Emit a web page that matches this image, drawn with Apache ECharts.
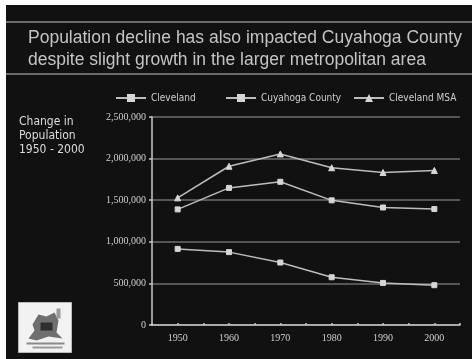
<!DOCTYPE html>
<html>
<head>
<meta charset="utf-8">
<script src="https://cdn.jsdelivr.net/npm/echarts@6/dist/echarts.min.js"></script>
<style>
  html, body { margin: 0; padding: 0; background: #ffffff; width: 472px; height: 359px; overflow: hidden; }
  #chart { position: absolute; left: 6px; top: 5px; width: 466px; height: 354px; }
</style>
</head>
<body>
<div id="chart"></div>
<script>
// Census years and population counts
var years = [1950, 1960, 1970, 1980, 1990, 2000];
var cleveland = [914808, 876050, 750903, 573822, 505616, 478403];
var cuyahoga = [1389532, 1647895, 1721300, 1498400, 1412140, 1393978];
var clevelandMSA = [1528000, 1908000, 2056000, 1890000, 1833000, 1857000];
var yTicks = [0, 500000, 1000000, 1500000, 2000000, 2500000];

function pairs(vals) {
  return years.map(function (y, i) { return [y, vals[i]]; });
}

var lineColor = '#bdbdbd';
var textColor = '#cfcfcf';
var legendFont = { color: textColor, fontSize: 10, fontFamily: 'DejaVu Sans Condensed, DejaVu Sans, sans-serif' };

function series(name, vals, symbol, size) {
  return {
    name: name,
    type: 'line',
    data: pairs(vals),
    symbol: symbol,
    symbolSize: size,
    showSymbol: true,
    lineStyle: { color: lineColor, width: 1.5 },
    itemStyle: { color: '#d6d6d6', borderColor: '#d6d6d6' },
    emphasis: { disabled: true }
  };
}

function legendAt(name, left) {
  return {
    data: [name],
    left: left, top: 88,
    padding: 0,
    itemWidth: 30, itemHeight: 10,
    itemGap: 6,
    textStyle: legendFont,
    selectedMode: false
  };
}

var chart = echarts.init(document.getElementById('chart'));
chart.setOption({
  backgroundColor: '#111111',
  animation: false,
  legend: [
    legendAt('Cleveland', 109),
    legendAt('Cuyahoga County', 219),
    legendAt('Cleveland MSA', 347)
  ],
  grid: { left: 146, right: 12, top: 112, bottom: 34 },
  xAxis: {
    type: 'value',
    min: 1945, max: 2005, interval: 5,
    axisLine: { lineStyle: { color: '#c8c8c8', width: 1.5 } },
    axisTick: { show: true, inside: true, length: 2, lineStyle: { color: '#c8c8c8', width: 1.5 } },
    splitLine: { show: false },
    axisLabel: {
      color: textColor, fontSize: 10, fontFamily: 'Liberation Serif, serif', margin: 8,
      formatter: function (v) { return (v % 10 === 0 && years.indexOf(v) >= 0) ? String(v) : ''; }
    }
  },
  yAxis: {
    type: 'value',
    min: yTicks[0], max: yTicks[yTicks.length - 1], interval: 500000,
    axisLine: { show: true, lineStyle: { color: '#c8c8c8', width: 1.5 } },
    axisTick: { show: true, length: 3, lineStyle: { color: '#c8c8c8', width: 1.5 } },
    splitLine: { show: true, lineStyle: { color: '#6e6e6e', width: 1.5 } },
    axisLabel: {
      color: textColor, fontSize: 10, fontFamily: 'Liberation Serif, serif', margin: 6,
      formatter: function (v) { return v.toLocaleString('en-US'); }
    }
  },
  series: [
    series('Cleveland', cleveland, 'rect', 5),
    series('Cuyahoga County', cuyahoga, 'rect', 5),
    series('Cleveland MSA', clevelandMSA, 'triangle', 6)
  ],
  graphic: [
    { type: 'rect', shape: { x: 0, y: 16, width: 466, height: 2 }, style: { fill: '#6a6a6a' } },
    { type: 'rect', shape: { x: 0, y: 68, width: 466, height: 2 }, style: { fill: '#6a6a6a' } },
    {
      type: 'text', left: 22, top: 22,
      style: {
        text: 'Population decline has also impacted Cuyahoga County\ndespite slight growth in the larger metropolitan area',
        fill: '#c4c4c4', font: '17.5px "Liberation Sans", Arial, sans-serif', lineHeight: 22
      }
    },
    {
      type: 'text', left: 13, top: 110,
      style: {
        text: 'Change in\nPopulation\n1950 - 2000',
        fill: '#dcdcdc', font: '12px "DejaVu Sans Condensed", "DejaVu Sans", sans-serif', lineHeight: 14
      }
    },
    // small emblem in the lower-left corner
    {
      type: 'group', left: 12, top: 297,
      children: [
        { type: 'rect', shape: { x: 0, y: 0, width: 53, height: 50 }, style: { fill: '#f2f2f2', stroke: '#bbbbbb', lineWidth: 1 } },
        { type: 'polygon', shape: { points: [[14, 22], [20, 12], [28, 14], [36, 10], [40, 18], [38, 30], [44, 36], [30, 34], [18, 38], [10, 36], [16, 28]] }, style: { fill: '#6f6f6f' } },
        { type: 'rect', shape: { x: 22, y: 20, width: 12, height: 8 }, style: { fill: '#2e2e2e' } },
        { type: 'rect', shape: { x: 38, y: 6, width: 4, height: 10 }, style: { fill: '#9a9a9a' } },
        { type: 'rect', shape: { x: 8, y: 40, width: 38, height: 2 }, style: { fill: '#8a8a8a' } },
        { type: 'rect', shape: { x: 14, y: 44, width: 30, height: 2 }, style: { fill: '#9a9a9a' } }
      ]
    }
  ]
});
</script>
</body>
</html>
